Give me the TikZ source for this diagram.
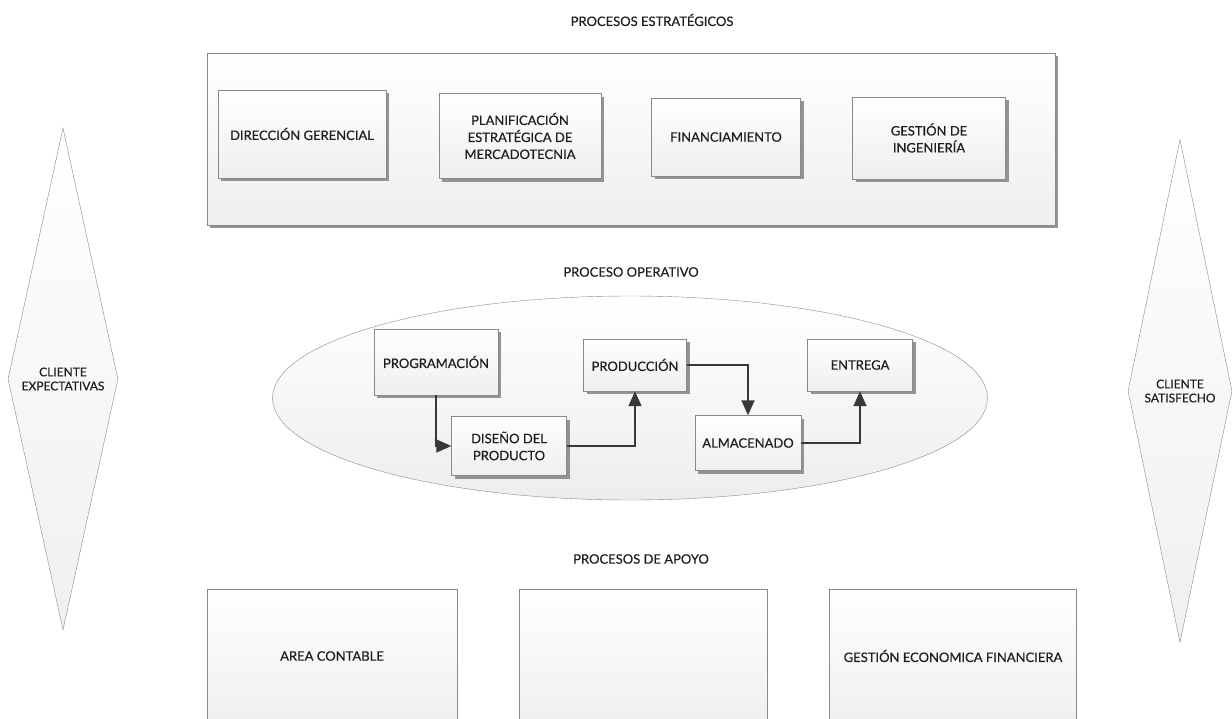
\documentclass[tikz,border=0pt]{standalone}
\usepackage{fontspec}
\setmainfont{Lato}
\usetikzlibrary{shapes.geometric,shadows,arrows.meta}

\definecolor{linegray}{HTML}{8A8A8A}
\definecolor{txtgray}{HTML}{1E1E1E}
\definecolor{arrowgray}{HTML}{383838}

\newcommand{\boxfont}{\fontsize{13}{17}\selectfont\addfontfeature{FakeBold=0.45}}

\begin{document}
\begin{tikzpicture}[x=1pt, y=-1pt,
  procbox/.style={rectangle, draw=linegray, top color=white, bottom color=gray!13,
    drop shadow={shadow xshift=3pt, shadow yshift=-3pt, fill=gray!85, opacity=1},
    align=center, font=\boxfont, text=txtgray, inner sep=2pt},
  flatbox/.style={rectangle, draw=linegray, top color=white, bottom color=gray!12,
    align=center, font=\boxfont, text=txtgray},
  client/.style={diamond, draw=linegray, top color=white, bottom color=gray!12,
    align=center, font=\fontsize{12}{14}\selectfont\addfontfeature{FakeBold=0.45},
    text=txtgray, inner sep=0pt, minimum width=110pt},
  title/.style={font=\fontsize{13}{15}\selectfont\addfontfeature{FakeBold=0.45}, text=txtgray},
  flow/.style={draw=arrowgray, line width=1.6pt, -{Triangle[length=15pt,width=13pt]}}]

\useasboundingbox (0,0) rectangle (1232,718);
\clip (0,0) rectangle (1232,718);

% estrategicos
\node [title] (ttlest) at (652,20) {PROCESOS ESTRATÉGICOS};
\node [procbox, minimum width=848pt, minimum height=172pt] (est) at (631,139) {};

\node [procbox, minimum width=168pt, minimum height=88pt] (dir) at (302,134) {DIRECCIÓN GERENCIAL};
\node [procbox, minimum width=162pt, minimum height=85pt] (plan) at (520,136)
  {PLANIFICACIÓN\\ESTRATÉGICA DE\\MERCADOTECNIA};
\node [procbox, minimum width=149pt, minimum height=78pt] (fin) at (726,137) {FINANCIAMIENTO};
\node [procbox, minimum width=153pt, minimum height=82pt] (ing) at (929,138) {GESTIÓN DE\\INGENIERÍA};

% operativo
\node [title] (ttlop) at (631,272) {PROCESO OPERATIVO};
\node [ellipse, draw=linegray, top color=white, bottom color=gray!14,
  minimum width=715pt, minimum height=204pt] (oper) at (630,398) {};

\node [procbox, minimum width=124pt, minimum height=66pt] (prog) at (436,362) {PROGRAMACIÓN};
\node [procbox, minimum width=115pt, minimum height=59pt] (dis) at (509,446) {DISEÑO DEL\\PRODUCTO};
\node [procbox, minimum width=103pt, minimum height=52pt] (prod) at (635,365) {PRODUCCIÓN};
\node [procbox, minimum width=106pt, minimum height=55pt] (alm) at (748,443) {ALMACENADO};
\node [procbox, minimum width=105pt, minimum height=52pt] (ent) at (860,365) {ENTREGA};

\draw [flow] (prog.south) |- (dis.west);
\draw [flow] (dis.east) -| (prod.south);
\draw [flow] (prod.east) -| (alm.north);
\draw [flow] (alm.east) -| (ent.south);

% clientes
\node [client, minimum height=502pt] (cliexp) at (63,379) {CLIENTE\\EXPECTATIVAS};
\node [client, minimum width=104pt, minimum height=503pt] (clisat) at (1180,391) {CLIENTE\\SATISFECHO};

% apoyo
\node [title] (ttlapo) at (641,559) {PROCESOS DE APOYO};
\node [flatbox, minimum width=250pt, minimum height=134pt] (cont) at (332,656) {AREA CONTABLE};
\node [flatbox, minimum width=248pt, minimum height=134pt] (vacio) at (643,656) {};
\node [flatbox, minimum width=247pt, minimum height=134pt] (econ) at (953,656) {GESTIÓN ECONOMICA FINANCIERA};

\end{tikzpicture}
\end{document}
